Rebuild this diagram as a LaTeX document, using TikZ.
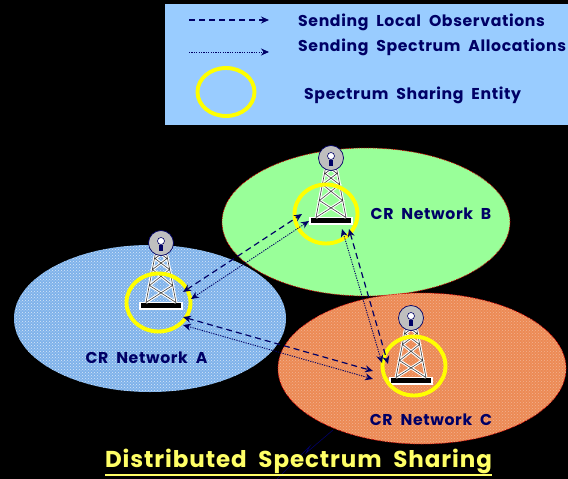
\documentclass[tikz,border=0pt]{standalone}
\usepackage{fontspec}
\setmainfont[LetterSpace=4,WordSpace=2]{Poppins}
\usetikzlibrary{arrows.meta,patterns,shapes.geometric}
\definecolor{panelblue}{HTML}{99CCFF}
\definecolor{inknavy}{HTML}{000066}
\definecolor{netblue}{HTML}{7FB2EA}
\definecolor{netgreen}{HTML}{99FF99}
\definecolor{netorange}{HTML}{EC8A55}
\definecolor{ringyellow}{HTML}{FFFF00}
\definecolor{titleyellow}{HTML}{FFFF66}
\tikzset{
    network/.style={ellipse,draw=red!85!black,densely dotted,line width=0.8pt,inner sep=0pt},
    ssentity/.style={ellipse,draw=ringyellow,line width=3.9pt,inner sep=0pt},
    netlabel/.style={text=inknavy,inner sep=0pt,font=\fontsize{15.7}{18}\selectfont\bfseries},
    legendlabel/.style={text=inknavy,inner sep=0pt,anchor=west,font=\fontsize{15.7}{18}\selectfont\bfseries},
    observe/.style={dash pattern=on 6pt off 4pt,line width=1.2pt,draw=inknavy},
    allocate/.style={dash pattern=on 1.2pt off 1.2pt,line width=0.9pt,draw=inknavy},
    crtower/.pic={
        \fill[white] (-22,-4) rectangle (22,4);
        \fill[black] (-20,-2.5) rectangle (20,2.5);
        \draw[white,line width=2.8pt] (-15,-3) -- (-5,-55) -- (5,-55) -- (15,-3)
            (-15,-3) -- (11.5,-20) -- (-8.5,-36) -- (6,-47) -- (-5,-55)
            (15,-3) -- (-11.5,-20) -- (8.5,-36) -- (-6,-47) -- (5,-55);
        \draw[black!75,line width=0.6pt] (-15,-3) -- (-5,-55) (5,-55) -- (15,-3)
            (-15,-3) -- (11.5,-20) -- (-8.5,-36) -- (6,-47) -- (-5,-55)
            (15,-3) -- (-11.5,-20) -- (8.5,-36) -- (-6,-47) -- (5,-55);
        \filldraw[fill=black!25,draw=inknavy,line width=0.7pt] (0,-62.5) circle (12.5);
        \filldraw[fill=white,draw=inknavy,line width=0.6pt] (0,-64.5) circle (3.5);
        \fill[inknavy] (-2,-61) rectangle (2,-55);
    }
}

\begin{document}
\begin{tikzpicture}[x=1pt,y=-1pt,>={Stealth[length=8pt,width=7pt]}]
    \fill[black] (0,0) rectangle (568,479);
    \useasboundingbox (0,0) rectangle (568,479);

    % legend
    \fill[panelblue] (165,4) rectangle (568,125);
    \coordinate (obsL) at (189,20);
    \coordinate (obsR) at (269,20);
    \coordinate (allocL) at (189,52);
    \coordinate (allocR) at (269,52);
    \draw[observe,->] (obsL) -- (obsR);
    \draw[allocate,->] (allocL) -- (allocR);
    \node[ssentity,minimum width=57pt,minimum height=48pt] (ssLegend) at (226,92) {};
    \node[legendlabel] (lblObs) at (298,22) {Sending Local Observations};
    \node[legendlabel] (lblAlloc) at (298,47) {Sending Spectrum Allocations};
    \node[legendlabel] (lblEntity) at (304,95) {Spectrum Sharing Entity};

    % networks
    \node[network,draw=none,fill=netblue,minimum width=272pt,minimum height=147pt,
        postaction={pattern=crosshatch dots,pattern color=white!70!netblue}] (netA) at (150,318.5) {};
    \node[network,fill=netgreen,minimum width=288pt,minimum height=148pt] (netB) at (366,222) {};
    \node[network,fill=netorange,minimum width=288pt,minimum height=151pt,
        postaction={pattern=crosshatch dots,pattern color=white!35!netorange}] (netC) at (422,368.5) {};

    \pic (towerA) at (161,305.5) {crtower};
    \pic (towerB) at (331,220.5) {crtower};
    \pic (towerC) at (411,380.5) {crtower};

    \node[ssentity,minimum width=64pt,minimum height=58pt] (ssA) at (158.5,302.5) {};
    \node[ssentity,minimum width=63pt,minimum height=59pt] (ssB) at (326,214) {};
    \node[ssentity,minimum width=63pt,minimum height=59pt] (ssC) at (414,366) {};

    \node[netlabel] (lblA) at (146.5,358) {CR Network A};
    \node[netlabel] (lblB) at (431,213.5) {CR Network B};
    \node[netlabel] (lblC) at (431,420) {CR Network C};

    % arrow ends at each entity
    \coordinate (aObsB) at (183,292);
    \coordinate (bObsA) at (302,214);
    \coordinate (aAllocB) at (191,299);
    \coordinate (bAllocA) at (309,221);
    \coordinate (aObsC) at (183,317);
    \coordinate (cObsA) at (373,371);
    \coordinate (aAllocC) at (183,325);
    \coordinate (cAllocA) at (373,379);
    \coordinate (bObsC) at (349,229);
    \coordinate (cObsB) at (388,364);
    \coordinate (bAllocC) at (342,229);
    \coordinate (cAllocB) at (382,363);

    \draw[observe,<->] (aObsB) -- (bObsA);
    \draw[allocate,<->] (aAllocB) -- (bAllocA);
    \draw[observe,<->] (aObsC) -- (cObsA);
    \draw[allocate,<->] (aAllocC) -- (cAllocA);
    \draw[observe,<->] (bObsC) -- (cObsB);
    \draw[allocate,<->] (bAllocC) -- (cAllocB);

    % stray bolt under network C
    \coordinate (boltA) at (333,430);
    \coordinate (boltB) at (306,453);
    \coordinate (boltC) at (310,446);
    \coordinate (boltD) at (277,479);
    \draw[inknavy,line width=0.6pt] (boltA) -- (boltB) -- (boltC) -- (boltD);

    % title
    \node[text=titleyellow,inner sep=0pt,font=\fontsize{23}{30}\selectfont\bfseries] (title) at (298.5,461.5) {Distributed Spectrum Sharing};
    \coordinate (ulL) at (105,474.5);
    \coordinate (ulR) at (492,474.5);
    \draw[titleyellow,line width=2pt] (ulL) -- (ulR);
\end{tikzpicture}
\end{document}
